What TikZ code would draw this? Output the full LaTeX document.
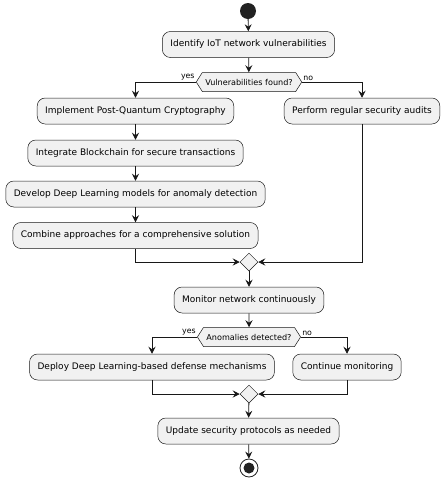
\documentclass[tikz,border=0pt]{standalone}
\usepackage{fontspec}
\setmainfont{DejaVu Sans}
\usetikzlibrary{positioning, arrows.meta, shapes.geometric, shapes.symbols}
\definecolor{actfill}{RGB}{241, 241, 241}
\definecolor{actdraw}{RGB}{24, 24, 24}
\definecolor{flowdraw}{RGB}{24, 24, 24}
\definecolor{dotfill}{RGB}{34, 34, 34}

\begin{document}
\begin{tikzpicture}[
    x=1pt, y=-1pt, % pixel grid, y grows downwards
    >={Stealth[length=7pt, width=7pt, inset=2.5pt]},
    font=\fontsize{9}{11}\selectfont,
    % activity diagram styles
    action/.style={rectangle, draw=actdraw, fill=actfill, line width=0.5pt, rounded corners=8pt, minimum height=26pt, inner xsep=8pt},
    decision/.style={signal, signal to=west and east, signal pointer angle=115, draw=actdraw, fill=actfill, line width=0.5pt, minimum height=19pt, inner xsep=3pt, inner ysep=1pt, font=\fontsize{8.1}{9}\selectfont},
    merge/.style={diamond, draw=actdraw, fill=actfill, line width=0.5pt, minimum size=18pt, inner sep=0pt},
    startdot/.style={circle, fill=dotfill, minimum size=16pt, inner sep=0pt},
    stopdot/.style={circle, draw=dotfill, line width=0.8pt, minimum size=18pt, inner sep=0pt,
        path picture={\fill[dotfill] (path picture bounding box.center) circle (5.5pt);}},
    arrow/.style={->, line width=0.8pt, draw=flowdraw},
    guard/.style={font=\fontsize{7.8}{8}\selectfont, inner sep=1pt}
]
\useasboundingbox (0, 0) rectangle (446, 480);

% ==========================================
% 1. Nodes
% ==========================================
\node[startdot] (start) at (248, 11) {};
\node[action] (identify) at (248.5, 44.5) {Identify IoT network vulnerabilities};
\node[decision] (vuln) at (249, 82) {Vulnerabilities found?};

% yes branch
\node[action] (pqc)     at (135.5, 111)   {Implement Post-Quantum Cryptography};
\node[action] (chain)   at (135.5, 153)   {Integrate Blockchain for secure transactions};
\node[action] (deep)    at (135.5, 194)   {Develop Deep Learning models for anomaly detection};
\node[action] (combine) at (135.5, 235.5) {Combine approaches for a comprehensive solution};
% no branch
\node[action] (audit) at (362, 111) {Perform regular security audits};

\node[merge] (merge1) at (249, 262) {};
\node[action] (monitor) at (249, 300) {Monitor network continuously};
\node[decision] (anomaly) at (249, 337) {Anomalies detected?};

\node[action] (deploy)   at (152, 367) {Deploy Deep Learning-based defense mechanisms};
\node[action] (continue) at (347, 367) {Continue monitoring};

\node[merge] (merge2) at (249, 394) {};
\node[action] (update) at (248.5, 431) {Update security protocols as needed};
\node[stopdot] (stop) at (249, 468) {};

% ==========================================
% 2. Connectors
% ==========================================
\draw[arrow] (start) -- (identify);
\draw[arrow] (identify) -- (vuln);

\draw[arrow] (vuln.west) node[guard, above left] {yes} -| (pqc.north);
\draw[arrow] (vuln.east) node[guard, above right] {no} -| (audit.north);

\draw[arrow] (pqc) -- (chain);
\draw[arrow] (chain) -- (deep);
\draw[arrow] (deep) -- (combine);

\draw[arrow] (combine.south) |- (merge1.west);
\draw[arrow] (audit.south) |- (merge1.east);
\draw[arrow] (merge1) -- (monitor);
\draw[arrow] (monitor) -- (anomaly);

\draw[arrow] (anomaly.west) node[guard, above left] {yes} -| (deploy.north);
\draw[arrow] (anomaly.east) node[guard, above right] {no} -| (continue.north);

\draw[arrow] (deploy.south) |- (merge2.west);
\draw[arrow] (continue.south) |- (merge2.east);
\draw[arrow] (merge2) -- (update);
\draw[arrow] (update) -- (stop);

\end{tikzpicture}
\end{document}
